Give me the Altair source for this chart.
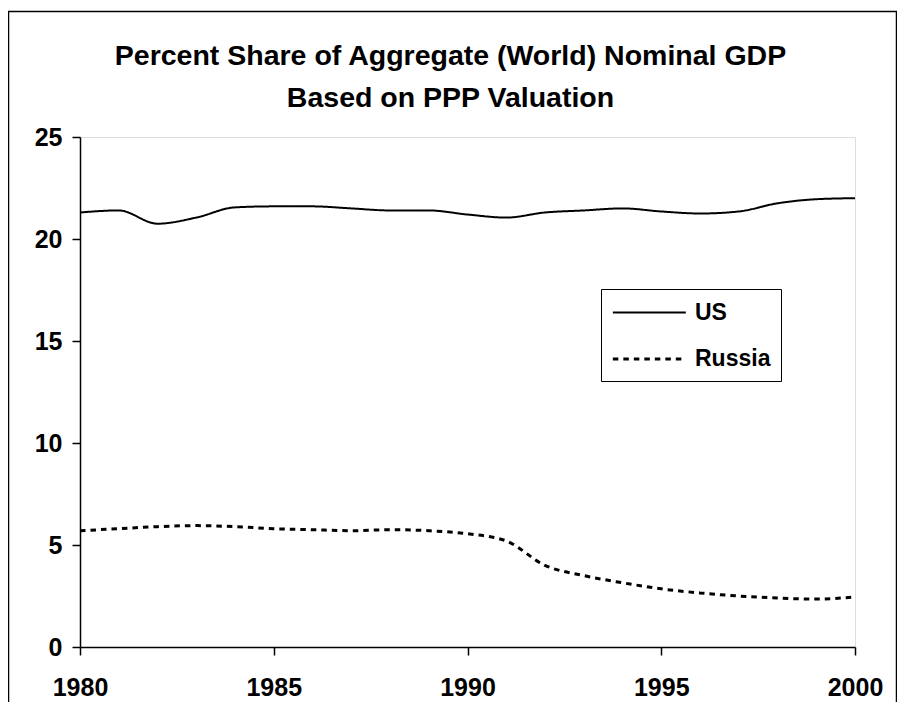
import altair as alt
import pandas as pd

years = list(range(1980, 2001))
us = [21.3, 21.4, 20.75, 21.05, 21.55, 21.6, 21.6, 21.5, 21.4, 21.4, 21.2,
      21.05, 21.3, 21.4, 21.5, 21.35, 21.25, 21.35, 21.75, 21.95, 22.0]
russia = [5.7, 5.8, 5.9, 5.95, 5.9, 5.8, 5.75, 5.7, 5.75, 5.7, 5.55,
          5.2, 4.0, 3.5, 3.15, 2.85, 2.65, 2.5, 2.4, 2.35, 2.45]
series_names = ["US", "Russia"]
title_lines = ["Percent Share of Aggregate (World) Nominal GDP", "Based on PPP Valuation"]
x_ticks = [1980, 1985, 1990, 1995, 2000]
y_ticks = [0, 5, 10, 15, 20, 25]

df = pd.DataFrame({
    "year": years * 2,
    "value": us + russia,
    "series": ["US"] * len(years) + ["Russia"] * len(years),
})

FONT = "Liberation Sans"

frame = alt.Chart(alt.Data(values=[{"a": 1}])).mark_rect(
    fill="transparent", stroke="black", strokeWidth=1.5
).encode(
    x=alt.value(-71.5), x2=alt.value(816.5), y=alt.value(-125.5), y2=alt.value(620)
)

lines = alt.Chart(df).mark_line(interpolate="monotone", color="black").encode(
    x=alt.X("year:Q", scale=alt.Scale(domain=[1980, 2000], nice=False),
            axis=alt.Axis(values=x_ticks, format="d", title=None, grid=False,
                          tickSize=8, labelPadding=20, labelFontSize=25,
                          labelFontWeight="bold", labelFont=FONT, labelColor="black",
                          domainColor="black", tickColor="black", domainWidth=1.5,
                          tickWidth=1.5, labelFlush=False)),
    y=alt.Y("value:Q", scale=alt.Scale(domain=[0, 25], nice=False),
            axis=alt.Axis(values=y_ticks, title=None, grid=False,
                          tickSize=8, labelPadding=10, labelFontSize=25,
                          labelFontWeight="bold", labelFont=FONT, labelColor="black",
                          domainColor="black", tickColor="black", domainWidth=1.5,
                          tickWidth=1.5)),
    strokeDash=alt.StrokeDash("series:N",
        scale=alt.Scale(domain=series_names, range=[[1, 0], [5.5, 5]]),
        legend=alt.Legend(orient="none", legendX=521, legendY=152, title=None,
                          symbolType="M-1,0L5,0", symbolSize=592,
                          symbolStrokeColor="black", symbolStrokeWidth=2.5,
                          symbolFillColor="transparent",
                          labelFont=FONT, labelFontSize=23, labelFontWeight="bold",
                          labelColor="black", strokeColor="black", padding=10,
                          rowPadding=20, fillColor="white", labelOffset=56,
                          cornerRadius=0)),
    strokeWidth=alt.StrokeWidth("series:N",
        scale=alt.Scale(domain=series_names, range=[2, 3]), legend=None),
)

chart = alt.layer(frame, lines).properties(
    width=775, height=510,
    title=alt.TitleParams(text=title_lines, font=FONT, fontSize=28.5, fontWeight="bold",
                          color="black", anchor="middle", dx=-17, lineHeight=42,
                          offset=-102),
    autosize=alt.AutoSizeParams(type="none"),
    padding={"left": 72, "top": 129, "right": 42, "bottom": 55},
).configure_view(stroke="#808080", strokeWidth=1.5).configure(background="white")

chart.save("out.html", embed_options={"renderer": "svg", "actions": False})
